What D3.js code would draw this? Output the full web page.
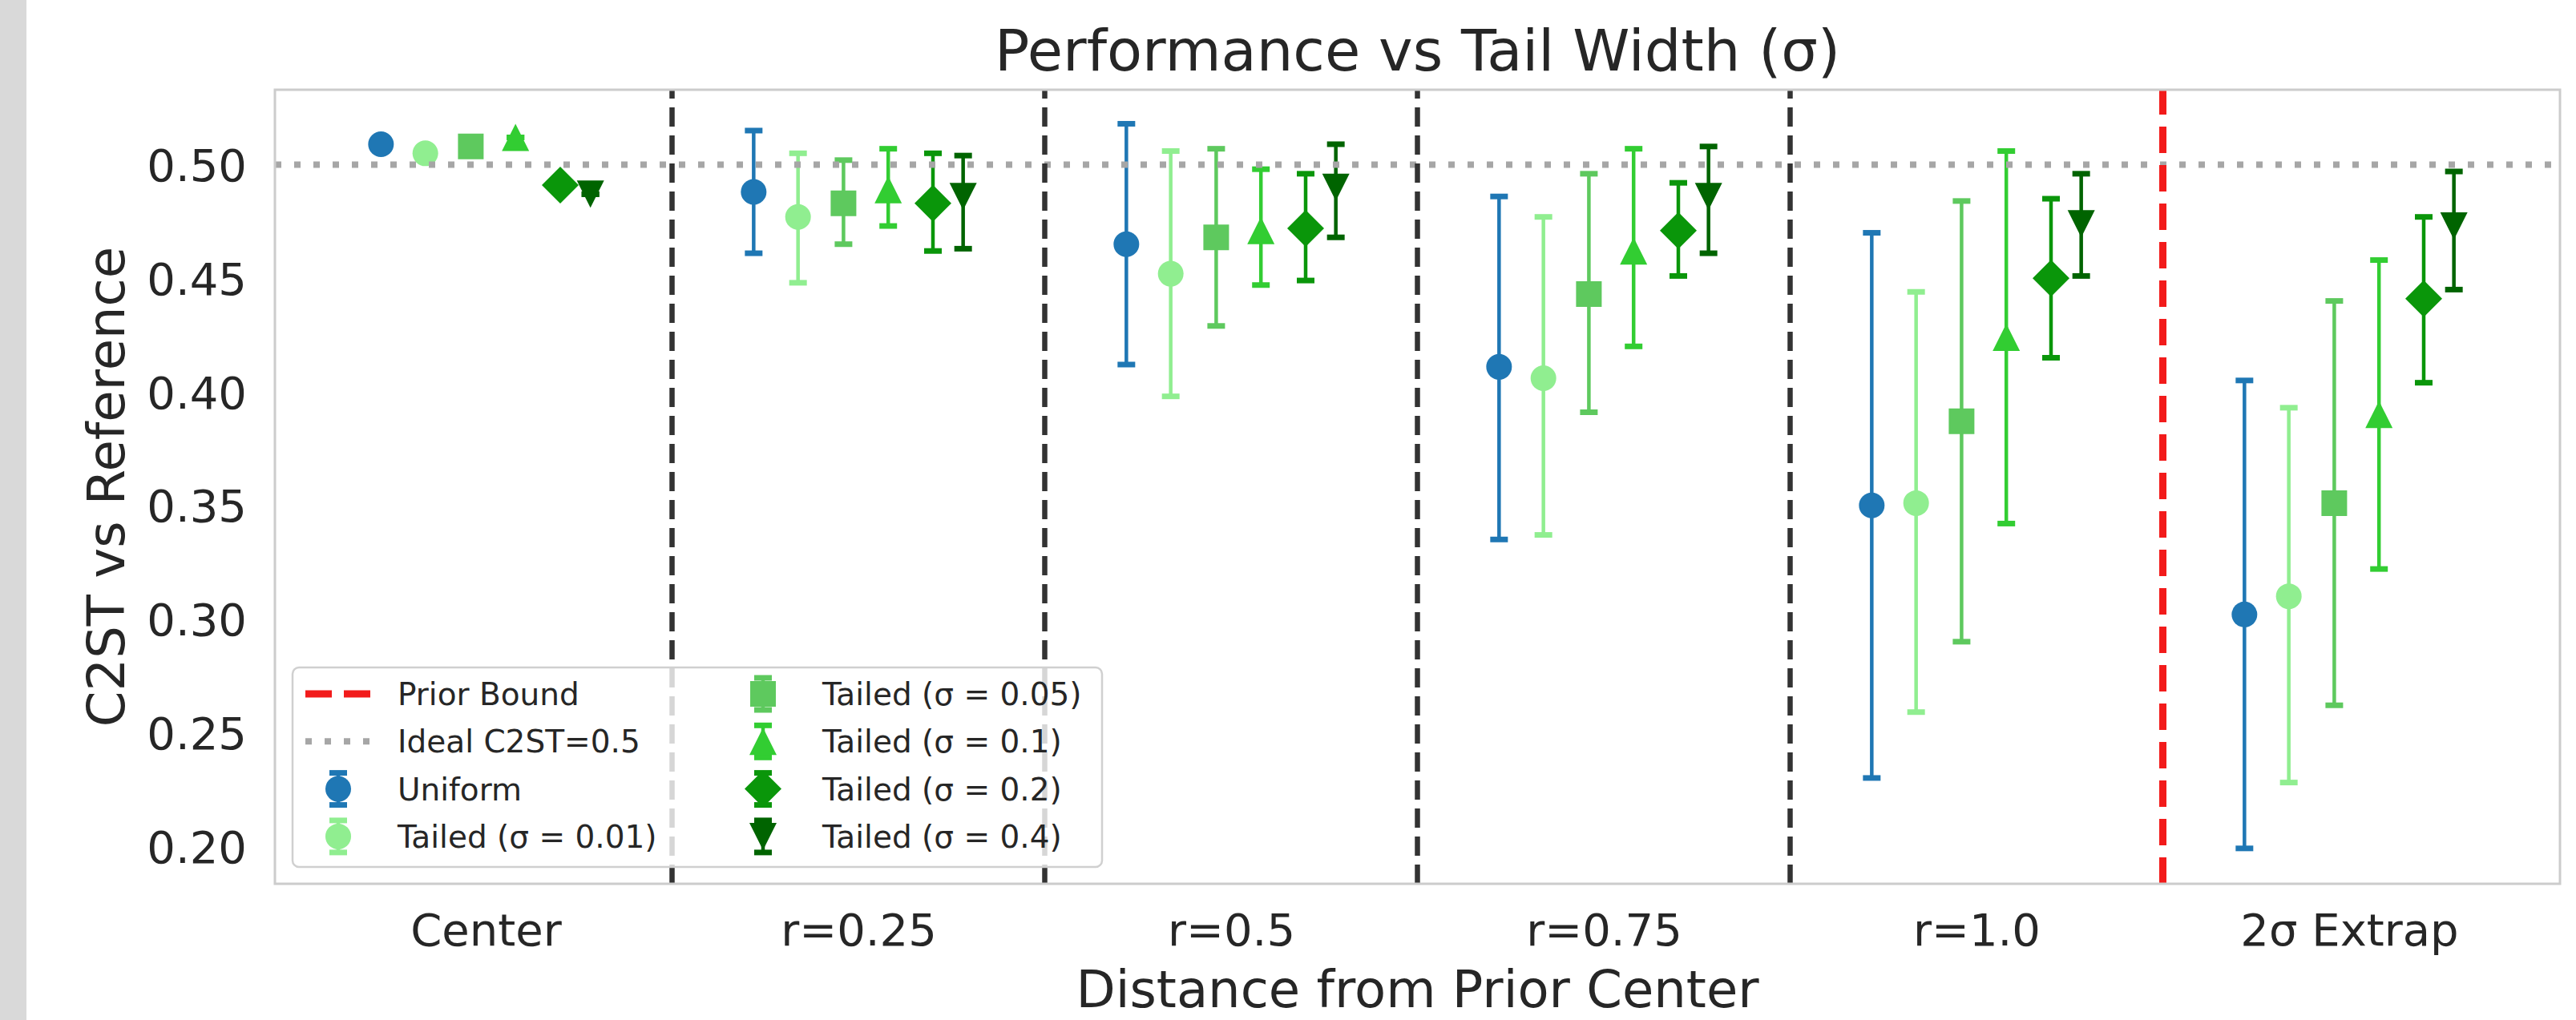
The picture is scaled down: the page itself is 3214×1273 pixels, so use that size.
<!DOCTYPE html>
<html>
<head>
<meta charset="utf-8">
<script src="https://cdn.jsdelivr.net/npm/d3@7"></script>
<style>
    body { margin: 0; background: #ffffff; }
    text { font-family: "DejaVu Sans", sans-serif; fill: #262626; }
</style>
</head>
<body>
<svg id="chart"></svg>
<script>
// categories along the x axis
const categories = ["Center", "r=0.25", "r=0.5", "r=0.75", "r=1.0", "2σ Extrap"];
const yTicks = [0.20, 0.25, 0.30, 0.35, 0.40, 0.45, 0.50];

const seriesLabels = ["Uniform", "Tailed (σ = 0.01)", "Tailed (σ = 0.05)", "Tailed (σ = 0.1)", "Tailed (σ = 0.2)", "Tailed (σ = 0.4)"];

// mean C2ST and error bar ends, one value per category
const uniformMean = [0.509, 0.488, 0.465, 0.411, 0.350, 0.302];
const uniformLow = [0.509, 0.461, 0.412, 0.335, 0.230, 0.199];
const uniformHigh = [0.509, 0.515, 0.518, 0.486, 0.470, 0.405];

const tailed001Mean = [0.505, 0.477, 0.452, 0.406, 0.351, 0.310];
const tailed001Low = [0.505, 0.448, 0.398, 0.337, 0.259, 0.228];
const tailed001High = [0.505, 0.505, 0.506, 0.477, 0.444, 0.393];

const tailed005Mean = [0.508, 0.483, 0.468, 0.443, 0.387, 0.351];
const tailed005Low = [0.508, 0.465, 0.429, 0.391, 0.290, 0.262];
const tailed005High = [0.508, 0.502, 0.507, 0.496, 0.484, 0.440];

const tailed01Mean = [0.512, 0.489, 0.471, 0.462, 0.424, 0.390];
const tailed01Low = [0.512, 0.473, 0.447, 0.420, 0.342, 0.322];
const tailed01High = [0.512, 0.507, 0.498, 0.507, 0.506, 0.458];

const tailed02Mean = [0.491, 0.483, 0.472, 0.471, 0.450, 0.441];
const tailed02Low = [0.491, 0.462, 0.449, 0.451, 0.415, 0.404];
const tailed02High = [0.491, 0.505, 0.496, 0.492, 0.485, 0.477];

const tailed04Mean = [0.487, 0.486, 0.490, 0.486, 0.474, 0.473];
const tailed04Low = [0.487, 0.463, 0.468, 0.461, 0.451, 0.445];
const tailed04High = [0.487, 0.504, 0.509, 0.508, 0.496, 0.497];

const idealValue = 0.5;
const dashedBoundaries = ["Center", "r=0.25", "r=0.5", "r=0.75"];
const priorBoundary = "r=1.0";

// styles
const seriesColors = ["#1f77b4", "#90ee90", "#5ec95e", "#32cd32", "#0a960a", "#006400"];
const seriesMarkers = ["circle", "circle", "square", "triangleUp", "diamond", "triangleDown"];

class TailWidthChart {

    constructor(_config) {
        this.config = {
            parentElement: _config.parentElement,
            containerWidth: _config.containerWidth || 3214,
            containerHeight: _config.containerHeight || 1273,
        }
        this.config.margin = _config.margin || { top: 112, bottom: 170, right: 20, left: 343 };
        this.config.dodge = [-0.281, -0.162, -0.040, 0.080, 0.200, 0.281];
        this.data = _config.data;
        this.initVis();
        this.renderVis();
    }

    initVis() {
        let vis = this;

        vis.width = vis.config.containerWidth - vis.config.margin.left - vis.config.margin.right;
        vis.height = vis.config.containerHeight - vis.config.margin.top - vis.config.margin.bottom;

        vis.svg = d3.select(vis.config.parentElement)
            .attr('width', vis.config.containerWidth)
            .attr('height', vis.config.containerHeight);

        // grey strip on the far left of the original figure
        vis.svg.append('rect')
            .attr('x', 0).attr('y', 0)
            .attr('width', 33).attr('height', vis.config.containerHeight)
            .attr('fill', '#d9d9d9');

        vis.chart = vis.svg.append('g')
            .attr('transform', `translate(${vis.config.margin.left},${vis.config.margin.top})`);

        vis.xScale = d3.scalePoint()
            .domain(categories)
            .range([0, vis.width])
            .padding(0.5656);

        vis.yScale = d3.scaleLinear()
            .domain([0.18342, 0.53298])
            .range([vis.height, 0]);

        vis.xAxis = d3.axisBottom(vis.xScale)
            .tickSize(0)
            .tickPadding(37);

        vis.yAxis = d3.axisLeft(vis.yScale)
            .tickValues(yTicks)
            .tickFormat(d3.format('.2f'))
            .tickSize(0)
            .tickPadding(35);

        vis.svg.append('text')
            .attr('x', vis.config.margin.left + vis.width / 2)
            .attr('y', 88)
            .attr('text-anchor', 'middle')
            .style('font-size', '72px')
            .text('Performance vs Tail Width (σ)');

        vis.chart.append('text')
            .attr('x', vis.width / 2)
            .attr('y', vis.height + 154)
            .attr('text-anchor', 'middle')
            .style('font-size', '64px')
            .text('Distance from Prior Center');

        vis.chart.append('text')
            .attr('transform', `translate(${155 - vis.config.margin.left},${vis.height / 2}) rotate(-90)`)
            .attr('text-anchor', 'middle')
            .style('font-size', '64px')
            .text('C2ST vs Reference');
    }

    markerPath(type) {
        let p = d3.path();
        switch (type) {
            case 'circle':
                p.arc(0, 0, 16, 0, 2 * Math.PI);
                break;
            case 'square':
                p.rect(-16, -16, 32, 32);
                break;
            case 'triangleUp':
                p.moveTo(0, -17); p.lineTo(17, 17); p.lineTo(-17, 17); p.closePath();
                break;
            case 'triangleDown':
                p.moveTo(0, 17); p.lineTo(17, -17); p.lineTo(-17, -17); p.closePath();
                break;
            case 'diamond':
                p.moveTo(0, -23); p.lineTo(23, 0); p.lineTo(0, 23); p.lineTo(-23, 0); p.closePath();
                break;
        }
        return p.toString();
    }

    renderVis() {
        let vis = this;

        let xAxisG = vis.chart.append('g')
            .attr('transform', `translate(0,${vis.height})`)
            .call(vis.xAxis);
        xAxisG.select('.domain').remove();
        xAxisG.selectAll('text')
            .attr('fill', '#262626')
            .style('font-size', '56px')
            .style('font-family', '"DejaVu Sans", sans-serif');

        let yAxisG = vis.chart.append('g')
            .call(vis.yAxis);
        yAxisG.select('.domain').remove();
        yAxisG.selectAll('text')
            .attr('fill', '#262626')
            .attr('dy', '0.36em')
            .style('font-size', '56px')
            .style('font-family', '"DejaVu Sans", sans-serif');

        let step = vis.xScale.step();

        // one group per series: error bars, caps, then the marker
        let seriesG = vis.chart.selectAll('.series')
            .data(vis.data)
            .join('g')
            .attr('class', 'series');

        let points = seriesG.selectAll('.pt')
            .data((s, si) => categories.map((c, i) => ({
                cat: c,
                mean: s.mean[i],
                low: s.low[i],
                high: s.high[i],
                color: s.color,
                marker: s.marker,
                cx: vis.xScale(c) + vis.config.dodge[si] * step
            })))
            .join('g')
            .attr('class', 'pt');

        points.append('line')
            .attr('x1', d => d.cx).attr('x2', d => d.cx)
            .attr('y1', d => vis.yScale(d.low))
            .attr('y2', d => vis.yScale(d.high))
            .attr('stroke', d => d.color)
            .attr('stroke-width', 4.5);

        points.selectAll('.cap')
            .data(d => [d.low, d.high].map(v => ({ v: v, cx: d.cx, color: d.color })))
            .join('line')
            .attr('class', 'cap')
            .attr('x1', d => d.cx - 11).attr('x2', d => d.cx + 11)
            .attr('y1', d => vis.yScale(d.v))
            .attr('y2', d => vis.yScale(d.v))
            .attr('stroke', d => d.color)
            .attr('stroke-width', 7);

        points.append('path')
            .attr('d', d => vis.markerPath(d.marker))
            .attr('transform', d => `translate(${d.cx},${vis.yScale(d.mean)})`)
            .attr('fill', d => d.color);

        // reference lines go over the points
        vis.chart.append('line')
            .attr('x1', 0).attr('x2', vis.width)
            .attr('y1', vis.yScale(idealValue))
            .attr('y2', vis.yScale(idealValue))
            .attr('stroke', '#a6a6a6')
            .attr('stroke-width', 8)
            .attr('stroke-dasharray', '8,16');

        vis.chart.selectAll('.boundary')
            .data(dashedBoundaries)
            .join('line')
            .attr('class', 'boundary')
            .attr('x1', d => vis.xScale(d) + step / 2)
            .attr('x2', d => vis.xScale(d) + step / 2)
            .attr('y1', vis.height).attr('y2', 0)
            .attr('stroke', '#333333')
            .attr('stroke-width', 6.5)
            .attr('stroke-dasharray', '24,11');

        vis.chart.append('line')
            .attr('x1', vis.xScale(priorBoundary) + step / 2)
            .attr('x2', vis.xScale(priorBoundary) + step / 2)
            .attr('y1', vis.height).attr('y2', 0)
            .attr('stroke', '#f21b1b')
            .attr('stroke-width', 9)
            .attr('stroke-dasharray', '33,15');

        vis.chart.append('rect')
            .attr('width', vis.width)
            .attr('height', vis.height)
            .attr('fill', 'none')
            .attr('stroke', '#cccccc')
            .attr('stroke-width', 3);

        vis.renderLegend();
    }

    renderLegend() {
        let vis = this;

        let legend = vis.chart.append('g')
            .attr('transform', `translate(22,${vis.height - 270})`);

        legend.append('rect')
            .attr('width', 1010)
            .attr('height', 249)
            .attr('rx', 8)
            .attr('fill', '#ffffff')
            .attr('fill-opacity', 0.8)
            .attr('stroke', '#d0d0d0')
            .attr('stroke-width', 2.5);

        let items = [
            { label: 'Prior Bound', kind: 'line', color: '#f21b1b', width: 9, dash: '33,15' },
            { label: 'Ideal C2ST=0.5', kind: 'line', color: '#a6a6a6', width: 8, dash: '8,16' }
        ].concat(vis.data.map(s => ({ label: s.label, kind: 'err', color: s.color, marker: s.marker })));

        let entry = legend.selectAll('.entry')
            .data(items)
            .join('g')
            .attr('class', 'entry')
            .attr('transform', (d, i) => {
                let col = Math.floor(i / 4);
                let row = i % 4;
                return `translate(${col === 0 ? 57 : 587},${33 + row * 59.3})`;
            });

        entry.filter(d => d.kind === 'line')
            .append('line')
            .attr('x1', -41).attr('x2', 41)
            .attr('stroke', d => d.color)
            .attr('stroke-width', d => d.width)
            .attr('stroke-dasharray', d => d.dash);

        let errEntry = entry.filter(d => d.kind === 'err');
        errEntry.append('line')
            .attr('y1', -20).attr('y2', 20)
            .attr('stroke', d => d.color)
            .attr('stroke-width', 4.5);
        errEntry.selectAll('.lcap')
            .data(d => [-20, 20].map(v => ({ v: v, color: d.color })))
            .join('line')
            .attr('class', 'lcap')
            .attr('x1', -11).attr('x2', 11)
            .attr('y1', d => d.v).attr('y2', d => d.v)
            .attr('stroke', d => d.color)
            .attr('stroke-width', 7);
        errEntry.append('path')
            .attr('d', d => vis.markerPath(d.marker))
            .attr('fill', d => d.color);

        entry.append('text')
            .attr('x', 74)
            .attr('y', 14)
            .style('font-size', '39px')
            .text(d => d.label);
    }
}

let seriesMeans = [uniformMean, tailed001Mean, tailed005Mean, tailed01Mean, tailed02Mean, tailed04Mean];
let seriesLows = [uniformLow, tailed001Low, tailed005Low, tailed01Low, tailed02Low, tailed04Low];
let seriesHighs = [uniformHigh, tailed001High, tailed005High, tailed01High, tailed02High, tailed04High];

let chartData = seriesLabels.map((label, i) => ({
    label: label,
    mean: seriesMeans[i],
    low: seriesLows[i],
    high: seriesHighs[i],
    color: seriesColors[i],
    marker: seriesMarkers[i]
}));

let chart = new TailWidthChart({
    parentElement: '#chart',
    data: chartData
});
</script>
</body>
</html>
